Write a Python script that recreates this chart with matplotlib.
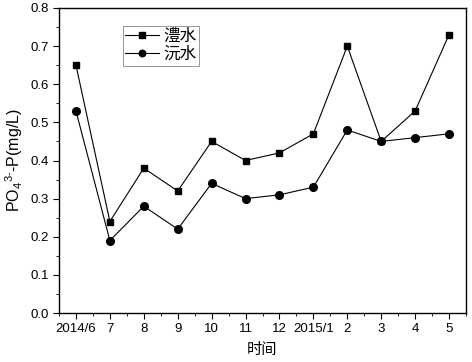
import numpy as np
import matplotlib
matplotlib.use("Agg")
import matplotlib.pyplot as plt
from matplotlib.ticker import MultipleLocator

plt.rcParams['font.family'] = ['Liberation Sans', 'Noto Sans CJK SC', 'DejaVu Sans']
plt.rcParams['mathtext.fontset'] = 'custom'
plt.rcParams['mathtext.rm'] = 'Liberation Sans'
plt.rcParams['mathtext.it'] = 'Liberation Sans'

months = ["2014/6", "7", "8", "9", "10", "11", "12", "2015/1", "2", "3", "4", "5"]
lishui = [0.65, 0.24, 0.38, 0.32, 0.45, 0.40, 0.42, 0.47, 0.70, 0.45, 0.53, 0.73]
yuanshui = [0.53, 0.19, 0.28, 0.22, 0.34, 0.30, 0.31, 0.33, 0.48, 0.45, 0.46, 0.47]

fig = plt.figure(figsize=(4.72, 3.62), dpi=100)
ax = fig.add_axes([59 / 472, 1 - 313 / 362, (466 - 59) / 472, (313 - 8) / 362])

x = np.arange(len(months))
ax.plot(x, lishui, color="black", lw=0.8, marker="s", ms=5, label="澧水")
ax.plot(x, yuanshui, color="black", lw=0.8, marker="o", ms=5.5, label="沅水")

ax.set_xlim(-0.5, 11.5)
ax.set_ylim(0, 0.8)
ax.set_xticks(x)
ax.set_xticklabels(months)
ax.xaxis.set_minor_locator(MultipleLocator(0.5))
ax.yaxis.set_major_locator(MultipleLocator(0.1))
ax.yaxis.set_minor_locator(MultipleLocator(0.05))
ax.tick_params(which="both", direction="out", top=False, right=False, labelsize=9.5)
ax.tick_params(which="major", length=4)
ax.tick_params(which="minor", length=2.5)
for s in ax.spines.values():
    s.set_linewidth(1.0)

ax.set_xlabel("时间", family=["Noto Sans CJK SC"], fontsize=11, labelpad=4)
ax.set_ylabel(r"PO$_4$$^{3\text{-}}$-P(mg/L)", fontsize=11.5, labelpad=4)

leg = ax.legend(loc="upper left", bbox_to_anchor=(0.157, 0.942), prop={"family": "Noto Sans CJK SC", "size": 12},
                fancybox=False, edgecolor="#888888", framealpha=1, handlelength=2.0,
                borderpad=0.15, labelspacing=0.05, handletextpad=0.3, borderaxespad=0,
                markerscale=0.85)
leg.get_frame().set_linewidth(0.6)

fig.savefig("out.png", dpi=100)
